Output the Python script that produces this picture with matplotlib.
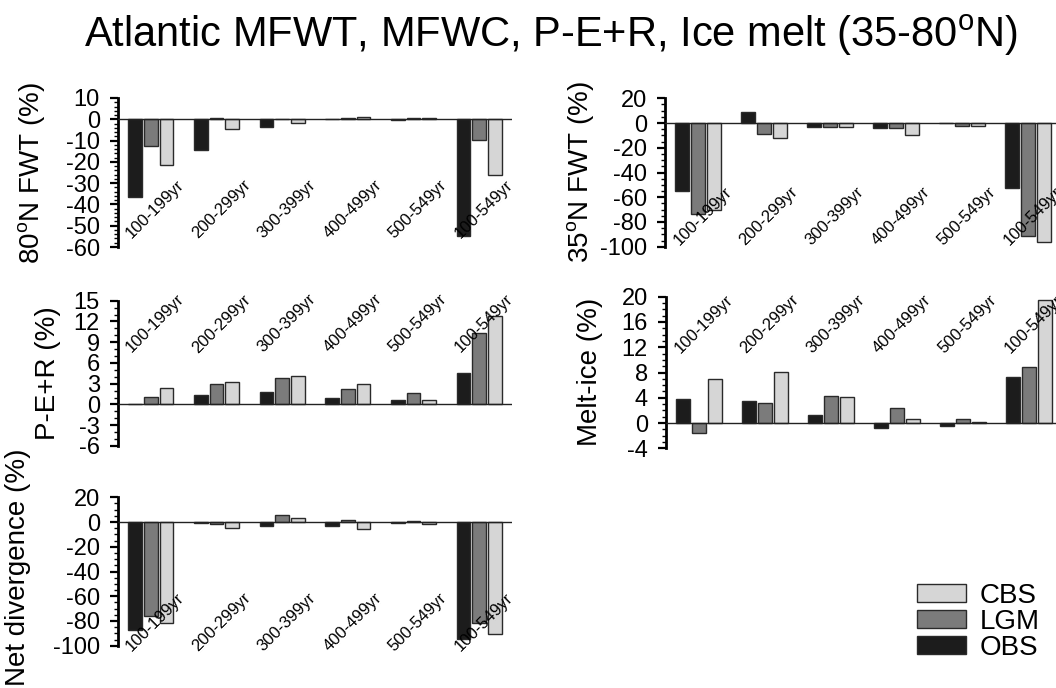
#!/usr/bin/env python3
"""Atlantic freshwater budget bar panels"""

import matplotlib
matplotlib.use("Agg")
import matplotlib.pyplot as plt
from matplotlib.patches import Patch
from matplotlib.ticker import MultipleLocator

plt.rcParams["font.family"] = ["Liberation Sans", "DejaVu Sans"]
plt.rcParams["mathtext.fontset"] = "custom"
plt.rcParams["mathtext.rm"] = "Liberation Sans"
plt.rcParams["axes.unicode_minus"] = False

periods = ["100-199yr", "200-299yr", "300-399yr", "400-499yr", "500-549yr", "100-549yr"]
series = ["OBS", "LGM", "CBS"]
colors = ["#1c1c1c", "#7b7b7b", "#d6d6d6"]

fwt80_obs = [-36.5, -14.5, -3.6, 0.0, -0.4, -54.9]
fwt80_lgm = [-12.4, 0.7, 0.2, 0.6, 0.8, -9.7]
fwt80_cbs = [-21.5, -4.7, -1.6, 1.0, 0.5, -26.3]

fwt35_obs = [-55.0, 8.9, -3.2, -3.8, -0.3, -52.3]
fwt35_lgm = [-73.3, -9.2, -3.5, -4.3, -2.2, -91.4]
fwt35_cbs = [-70.0, -11.9, -3.5, -10.0, -2.7, -96.2]

per_obs = [0.0, 1.3, 1.8, 1.0, 0.6, 4.5]
per_lgm = [1.1, 2.9, 3.85, 2.2, 1.65, 10.4]
per_cbs = [2.45, 3.25, 4.05, 2.9, 0.65, 12.8]

melt_obs = [3.8, 3.55, 1.3, -0.75, -0.45, 7.25]
melt_lgm = [-1.6, 3.1, 4.3, 2.45, 0.7, 8.8]
melt_cbs = [6.9, 8.15, 4.05, 0.6, 0.15, 19.5]

div_obs = [-87.3, -0.8, -3.2, -3.2, -0.5, -94.9]
div_lgm = [-76.0, -1.9, 5.4, 1.3, 0.8, -82.0]
div_cbs = [-82.0, -5.1, 3.0, -5.4, -1.3, -90.8]

W, H = 1056, 688
fig = plt.figure(figsize=(W / 100, H / 100), dpi=100)


def panel(left, top, right, bottom, values, ylim, major, minor, label, lab_x, lab_y, txt_y):
    ax = fig.add_axes([left / W, 1 - bottom / H, (right - left) / W, (bottom - top) / H])
    offsets = [0.26, 0.50, 0.74]
    for k, vals in enumerate(values):
        xs = [i + offsets[k] for i in range(len(periods))]
        ax.bar(xs, vals, width=0.21, color=colors[k], edgecolor="#2a2a2a",
               linewidth=1.0, zorder=2)
    ax.axhline(0, color="#222222", lw=1.0, zorder=3)
    for i, p in enumerate(periods):
        ax.text(i + 0.57, txt_y, p, rotation=45, ha="center", va="center",
                fontsize=12, zorder=4)
    ax.set_xlim(0, 6)
    ax.set_ylim(*ylim)
    ax.set_xticks([])
    ax.yaxis.set_major_locator(MultipleLocator(major))
    ax.yaxis.set_minor_locator(MultipleLocator(minor))
    for s in ["top", "right", "bottom"]:
        ax.spines[s].set_visible(False)
    ax.spines["left"].set_linewidth(2.0)
    ax.tick_params(axis="y", which="major", direction="out", length=6, width=1.6,
                   labelsize=17, pad=7)
    ax.tick_params(axis="y", which="minor", direction="out", length=3, width=1.0)
    ax.patch.set_visible(False)
    fig.text(lab_x / W, 1 - lab_y / H, label, rotation=90, ha="center", va="center",
             fontsize=20)
    return ax


panel(118, 98, 512, 247, [fwt80_obs, fwt80_lgm, fwt80_cbs], (-60, 10), 10, 2,
      "80$^{\\mathrm{o}}$N FWT (%)", 32, 173, -42)
panel(665, 98.3, 1061, 246.7, [fwt35_obs, fwt35_lgm, fwt35_cbs], (-100, 20), 20, 5,
      "35$^{\\mathrm{o}}$N FWT (%)", 581, 172, -75)
panel(118, 300.7, 512, 446, [per_obs, per_lgm, per_cbs], (-6, 15), 3, 1,
      "P-E+R (%)", 48, 373, 11.7)
panel(666, 296.7, 1062, 448.3, [melt_obs, melt_lgm, melt_cbs], (-4, 20), 4, 1,
      "Melt-ice (%)", 590, 372, 15.7)
panel(118, 497.3, 512, 645.7, [div_obs, div_lgm, div_cbs], (-100, 20), 20, 5,
      "Net divergence (%)", 18, 567, -81)

fig.text(551 / W, 1 - 47 / H, "Atlantic MFWT, MFWC, P-E+R, Ice melt (35-80$^{\\mathrm{o}}$N)",
         ha="center", va="baseline", fontsize=30)

handles = [Patch(facecolor=colors[k], edgecolor="#2a2a2a", linewidth=1.0) for k in range(3)]
fig.legend(handles[::-1], series[::-1], loc="lower right",
           bbox_to_anchor=(1059 / W, 1 - 680 / H), frameon=False, fontsize=20,
           handlelength=1.75, handleheight=0.62, labelspacing=0.0,
           handletextpad=0.5, borderpad=0.2)

fig.savefig("out.png", dpi=100)
